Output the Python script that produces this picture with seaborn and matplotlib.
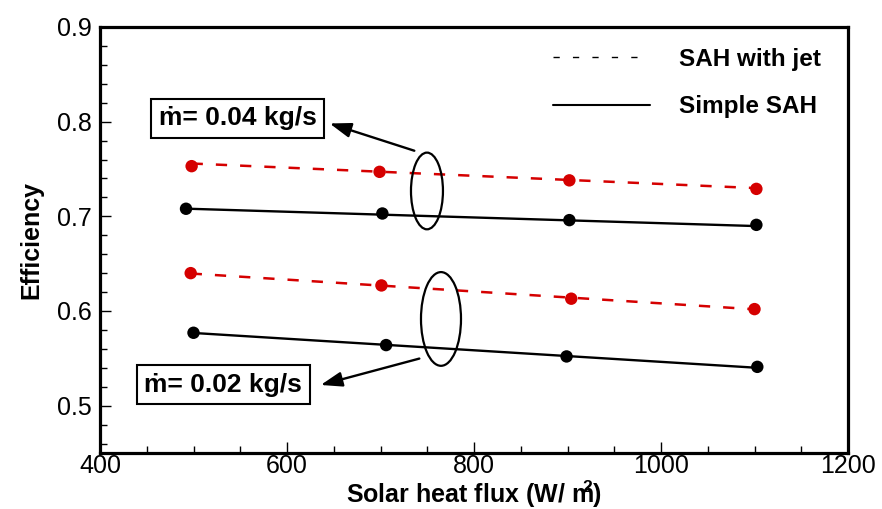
import numpy as np
import pandas as pd
import matplotlib
matplotlib.use("Agg")
import matplotlib.pyplot as plt
from matplotlib.patches import Ellipse
from matplotlib.lines import Line2D
import seaborn as sns

# ---- data ----
x_jet_hi = [498, 699, 902, 1102]
eff_jet_hi = [0.753, 0.747, 0.738, 0.729]
x_simple_hi = [492, 702, 902, 1102]
eff_simple_hi = [0.708, 0.703, 0.696, 0.691]
x_jet_lo = [497, 701, 904, 1100]
eff_jet_lo = [0.640, 0.627, 0.613, 0.602]
x_simple_lo = [500, 706, 899, 1103]
eff_simple_lo = [0.577, 0.564, 0.552, 0.541]

# straight trend lines (end points)
lx_jet_hi = [498, 1102]; ly_jet_hi = [0.7558, 0.7298]
lx_simple_hi = [492, 1102]; ly_simple_hi = [0.7081, 0.6897]
lx_jet_lo = [497, 1100]; ly_jet_lo = [0.6396, 0.6018]
lx_simple_lo = [500, 1103]; ly_simple_lo = [0.5768, 0.5400]

legend_labels = ["SAH with jet", "Simple SAH"]
box_labels = ["ṁ= 0.04 kg/s", "ṁ= 0.02 kg/s"]
x_ticks = [400, 600, 800, 1000, 1200]
y_ticks = [0.5, 0.6, 0.7, 0.8, 0.9]

RED = "#d50000"

sns.set_style("ticks")
plt.rcParams["font.family"] = ["Liberation Sans", "DejaVu Sans"]
plt.rcParams["text.color"] = "black"
plt.rcParams["axes.labelcolor"] = "black"
plt.rcParams["xtick.color"] = "black"
plt.rcParams["ytick.color"] = "black"
plt.rcParams["mathtext.fontset"] = "custom"
plt.rcParams["mathtext.rm"] = "Liberation Sans"
plt.rcParams["mathtext.bf"] = "Liberation Sans:bold"

fig = plt.figure(figsize=(8.82, 5.09), dpi=100)
ax = fig.add_axes([100 / 882, 1 - 453 / 509, 748 / 882, 426 / 509])

pts = pd.DataFrame({
    "x": x_jet_hi + x_jet_lo + x_simple_hi + x_simple_lo,
    "y": eff_jet_hi + eff_jet_lo + eff_simple_hi + eff_simple_lo,
    "kind": ["jet"] * 8 + ["simple"] * 8,
})

lines = [
    (lx_jet_hi, ly_jet_hi, "jet"),
    (lx_jet_lo, ly_jet_lo, "jet"),
    (lx_simple_hi, ly_simple_hi, "simple"),
    (lx_simple_lo, ly_simple_lo, "simple"),
]
for lx, ly, kind in lines:
    df = pd.DataFrame({"x": lx, "y": ly})
    if kind == "jet":
        sns.lineplot(data=df, x="x", y="y", ax=ax, color=RED, lw=1.8,
                     dashes=False, linestyle=(0, (4.5, 5.2)))
    else:
        sns.lineplot(data=df, x="x", y="y", ax=ax, color="black", lw=1.7)

sns.scatterplot(data=pts, x="x", y="y", hue="kind",
                palette={"jet": RED, "simple": "black"},
                s=80, edgecolor="none", legend=False, ax=ax, zorder=5)

ax.set_xlim(400, 1200)
ax.set_ylim(0.45, 0.9)
ax.set_xticks(x_ticks)
ax.set_yticks(y_ticks)
ax.set_xticks(np.arange(400, 1201, 50), minor=True)
ax.set_yticks(np.arange(0.46, 0.9, 0.02), minor=True)
ax.set_xticklabels([str(v) for v in x_ticks])
ax.set_yticklabels([f"{v:.1f}" for v in y_ticks])
ax.tick_params(axis="both", which="major", direction="in", length=8,
               width=1, labelsize=18, top=False, right=False, colors="black")
ax.tick_params(axis="both", which="minor", direction="in", length=5,
               width=1, top=False, right=False, colors="black")
ax.tick_params(axis="x", which="major", pad=1)
ax.tick_params(axis="y", which="major", pad=6)
for sp in ax.spines.values():
    sp.set_visible(True)
    sp.set_linewidth(2.3)
    sp.set_color("black")

ax.set_xlabel(r"Solar heat flux (W/ $\mathbf{m}^{\!\!\!\!\mathbf{2}}$)",
              fontsize=18, fontweight="bold", labelpad=0)
ax.set_ylabel("Efficiency", fontsize=18, fontweight="bold", labelpad=10)

# legend
handles = [Line2D([], [], color="black", lw=1.0, linestyle=(0, (4.5, 9.5))),
           Line2D([], [], color="black", lw=1.5)]
ax.legend(handles, legend_labels, loc="upper left", frameon=False,
          bbox_to_anchor=(553 / 882, 1 - 48 / 509), bbox_transform=fig.transFigure,
          prop={"size": 17.5, "weight": "bold"}, handlelength=4.0,
          handletextpad=1.2, labelspacing=1.0, borderpad=0, borderaxespad=0)

# annotation boxes
bbox = dict(boxstyle="square,pad=0.28", fc="white", ec="black", lw=1.5)
ax.text(547, 0.8037, box_labels[0], fontsize=19, fontweight="bold",
        ha="center", va="center", bbox=bbox, zorder=6)
ax.text(532, 0.5220, box_labels[1], fontsize=19, fontweight="bold",
        ha="center", va="center", bbox=bbox, zorder=6)

# arrows
arrow = dict(arrowstyle="-|>,head_length=1.3,head_width=0.45", color="black", lw=1.7)
ax.annotate("", xy=(642.8, 0.799), xytext=(739, 0.7684), arrowprops=arrow)
ax.annotate("", xy=(633.2, 0.5211), xytext=(744.4, 0.5505), arrowprops=arrow)

# ellipses
ax.add_patch(Ellipse((749.7, 0.7268), 34.2, 0.081, fill=False, ec="black", lw=1.6, zorder=4))
ax.add_patch(Ellipse((764.7, 0.5916), 42.8, 0.099, fill=False, ec="black", lw=1.6, zorder=4))

fig.savefig("out.png", dpi=100)
